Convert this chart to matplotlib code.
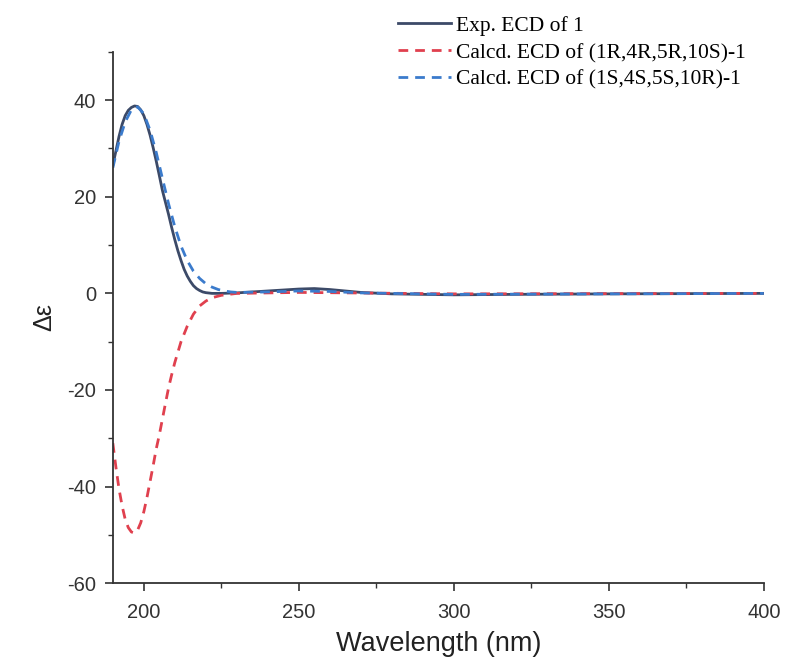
import matplotlib
matplotlib.use("Agg")
import matplotlib.pyplot as plt
from matplotlib.ticker import MultipleLocator

# experimental ECD curve
wl_exp = [190, 191, 192, 193, 194, 195, 196, 197, 198, 199, 200, 201, 202, 203,
          204, 205, 206, 207, 208, 209, 210, 211, 212, 213, 214, 215, 216, 217,
          218, 219, 220, 222, 225, 230, 240, 250, 255, 260, 265, 270, 280, 300,
          320, 350, 400]
ecd_exp = [26.5, 29.5, 32.5, 35.0, 36.8, 37.9, 38.5, 38.8, 38.7, 38.0, 36.8, 35.0,
           32.8, 30.2, 27.4, 24.4, 21.3, 18.8, 16.3, 13.6, 11.1, 8.8, 6.8, 5.0,
           3.6, 2.5, 1.6, 1.0, 0.6, 0.3, 0.15, 0.0, 0.0, 0.1, 0.5, 0.9, 1.0, 0.8,
           0.5, 0.2, -0.1, -0.3, -0.2, -0.1, 0.0]

# calculated (1R,4R,5R,10S)
wl_r = [190, 191, 192, 193, 194, 195, 196, 197, 198, 199, 200, 201, 202, 203,
        204, 205, 206, 207, 208, 209, 210, 212, 214, 216, 218, 220, 222, 225,
        230, 240, 250, 300, 400]
ecd_r = [-31.0, -36.0, -40.5, -44.0, -46.8, -48.5, -49.4, -49.6, -49.0, -47.5,
         -45.2, -42.3, -39.0, -35.7, -32.2, -29.3, -26.0, -22.7, -19.5, -16.8,
         -14.3, -10.0, -6.8, -4.3, -2.6, -1.6, -0.9, -0.4, 0.0, 0.1, 0.2, -0.1,
         0.0]

# calculated (1S,4S,5S,10R)
wl_s = [190, 192, 194, 196, 197, 198, 200, 202, 204, 206, 208, 210, 212, 214,
        216, 218, 220, 222, 224, 226, 228, 230, 240, 250, 260, 270, 280, 300,
        350, 400]
ecd_s = [26.0, 31.5, 35.5, 38.0, 38.5, 38.6, 37.2, 33.8, 29.2, 23.8, 18.5, 13.8,
         9.8, 6.8, 4.6, 3.1, 2.0, 1.3, 0.8, 0.5, 0.3, 0.2, 0.3, 0.5, 0.4, 0.1,
         0.0, -0.2, -0.1, 0.0]

labels = ["Exp. ECD of 1", "Calcd. ECD of (1R,4R,5R,10S)-1",
          "Calcd. ECD of (1S,4S,5S,10R)-1"]

plt.rcParams['font.family'] = ['Liberation Sans', 'DejaVu Sans']
plt.rcParams['axes.unicode_minus'] = False

fig = plt.figure(figsize=(7.89, 6.65), dpi=100)
ax = fig.add_axes([0.143, 0.123, 0.825, 0.799])

l1, = ax.plot(wl_exp, ecd_exp, color='#3c4a68', lw=2.0)
l2, = ax.plot(wl_r, ecd_r, color='#e0404e', lw=2.0, ls=(0, (3.5, 2.5)))
l3, = ax.plot(wl_s, ecd_s, color='#3b7bcc', lw=2.0, ls=(0, (3.5, 2.5)))

ax.set_xlim(190, 400)
ax.set_ylim(-60, 50)
ax.xaxis.set_major_locator(MultipleLocator(50))
ax.xaxis.set_minor_locator(MultipleLocator(25))
ax.yaxis.set_minor_locator(MultipleLocator(10))
ax.set_yticks([-60, -40, -20, 0, 20, 40])

for s in ['top', 'right']:
    ax.spines[s].set_visible(False)
for s in ['left', 'bottom']:
    ax.spines[s].set_color('#333333')
    ax.spines[s].set_linewidth(1.3)

ax.tick_params(which='major', direction='out', length=6, width=1.2,
               color='#333333', labelsize=14.5, labelcolor='#333333', pad=6)
ax.tick_params(axis='x', which='major', pad=8)
ax.tick_params(which='minor', direction='out', length=3.5, width=1.0,
               color='#333333')

ax.set_xlabel("Wavelength (nm)", fontsize=19.5, color='#222222', labelpad=7)
ax.set_ylabel("Δε", fontsize=18, color='#222222', labelpad=8)

fig.legend([l1, l2, l3], labels, loc='upper left',
           bbox_to_anchor=(0.504, 0.976), frameon=False,
           prop={'family': 'Liberation Serif', 'size': 15.5},
           handlelength=2.5, handletextpad=0.2, labelspacing=0.32,
           borderpad=0, borderaxespad=0)

fig.savefig("out.png", dpi=100)
